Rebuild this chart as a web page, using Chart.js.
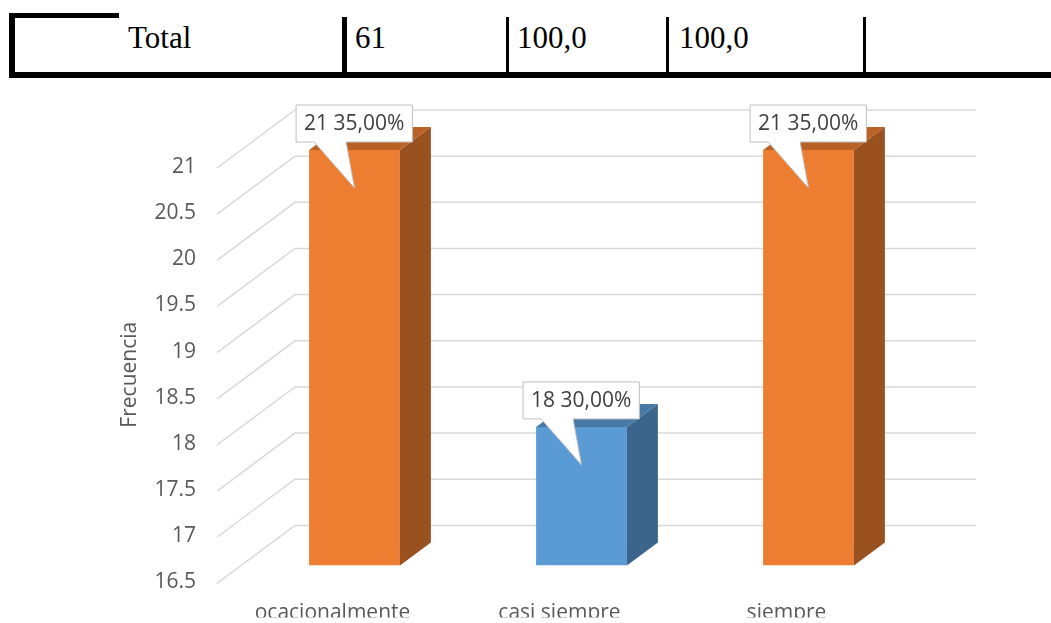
<!DOCTYPE html>
<html lang="es">
<head>
<meta charset="utf-8">
<title>Frecuencia</title>
<script src="https://cdn.jsdelivr.net/npm/chart.js@4/dist/chart.umd.min.js"></script>
<style>
  html, body { margin: 0; padding: 0; background: #fff; }
  #page { position: relative; width: 1051px; height: 623px; overflow: hidden; }
  .rule { position: absolute; background: #000; }
  .cell { position: absolute; top: 22px; font: 31px "Liberation Serif", "Times New Roman", serif; color: #000; line-height: 31px; }
  #wrap { position: absolute; left: 0; top: 90px; width: 1051px; height: 533px; }
</style>
</head>
<body>
<div id="page">
  <!-- fila del total -->
  <div class="rule" style="left:9px; top:13px; width:110px; height:5px;"></div>
  <div class="rule" style="left:9px; top:13px; width:6px; height:65px;"></div>
  <div class="rule" style="left:9px; top:72px; width:1042px; height:6px;"></div>
  <div class="rule" style="left:342px; top:17px; width:5px; height:56px;"></div>
  <div class="rule" style="left:506px; top:17px; width:3px; height:56px;"></div>
  <div class="rule" style="left:666px; top:17px; width:3px; height:56px;"></div>
  <div class="rule" style="left:863px; top:17px; width:3px; height:56px;"></div>
  <div class="cell" id="c0" style="left:128px;"></div>
  <div class="cell" id="c1" style="left:355px;"></div>
  <div class="cell" id="c2" style="left:517px;"></div>
  <div class="cell" id="c3" style="left:679px;"></div>

  <div id="wrap"><canvas id="grafico"></canvas></div>
</div>

<script>
const filaTotal = ["Total", "61", "100,0", "100,0"];

const categorias = ["ocacionalmente", "casi siempre", "siempre"];
const frecuencias = [21, 18, 21];
const porcentajes = [35, 30, 35];
const colores = ["#ED7D31", "#5B9BD5", "#ED7D31"];

const yMin = 16.5;
const yMax = 21;
const yPaso = 0.5;

filaTotal.forEach((t, i) => {
  document.getElementById("c" + i).textContent = t;
});

const fuente = '"Open Sans", "Noto Sans", sans-serif';
const gris = "#595959";

// profundidad de las barras y de la pared del fondo
const prof = { dx: 31, dy: -23 };

function oscurecer(hex, f) {
  const n = parseInt(hex.slice(1), 16);
  const r = Math.round(((n >> 16) & 255) * f);
  const g = Math.round(((n >> 8) & 255) * f);
  const b = Math.round((n & 255) * f);
  return `rgb(${r},${g},${b})`;
}

function etiqueta(i) {
  return frecuencias[i] + " " + porcentajes[i].toFixed(2).replace(".", ",") + "%";
}

// lineas de la cuadricula en perspectiva
const cuadricula3d = {
  id: "cuadricula3d",
  beforeDatasetsDraw(chart) {
    const ctx = chart.ctx;
    const a = chart.chartArea;
    const ys = chart.scales.y;
    ctx.save();
    ctx.strokeStyle = "#D9D9D9";
    ctx.lineWidth = 1.5;
    ys.ticks.forEach(t => {
      const py = ys.getPixelForValue(t.value);
      ctx.beginPath();
      ctx.moveTo(a.left - 24, py + 18);
      ctx.lineTo(a.left + 54, py - 40);
      ctx.lineTo(a.right + 54, py - 40);
      ctx.stroke();
    });
    ctx.restore();
  }
};

// caras lateral y superior de cada barra
const barras3d = {
  id: "barras3d",
  afterDatasetsDraw(chart) {
    const ctx = chart.ctx;
    const meta = chart.getDatasetMeta(0);
    ctx.save();
    meta.data.forEach((bar, i) => {
      const { x, y, base, width } = bar.getProps(["x", "y", "base", "width"], true);
      const l = x - width / 2, r = x + width / 2;
      ctx.fillStyle = oscurecer(colores[i], 0.65);
      ctx.beginPath();
      ctx.moveTo(r, y);
      ctx.lineTo(r + prof.dx, y + prof.dy);
      ctx.lineTo(r + prof.dx, base + prof.dy);
      ctx.lineTo(r, base);
      ctx.closePath();
      ctx.fill();
      ctx.fillStyle = oscurecer(colores[i], 0.78);
      ctx.beginPath();
      ctx.moveTo(l, y);
      ctx.lineTo(l + prof.dx, y + prof.dy);
      ctx.lineTo(r + prof.dx, y + prof.dy);
      ctx.lineTo(r, y);
      ctx.closePath();
      ctx.fill();
    });
    ctx.restore();
  },
  afterDraw(chart) {
    const ctx = chart.ctx;
    const meta = chart.getDatasetMeta(0);
    ctx.save();
    ctx.font = "21px " + fuente;
    // globos con el valor y el porcentaje
    meta.data.forEach((bar, i) => {
      const { x, y, width } = bar.getProps(["x", "y", "width"], true);
      const txt = etiqueta(i);
      const w = ctx.measureText(txt).width + 16;
      const bl = x - width / 2 - 13;
      const bt = y - 45;
      const bb = y - 8;
      ctx.beginPath();
      ctx.moveTo(bl, bt);
      ctx.lineTo(bl + w, bt);
      ctx.lineTo(bl + w, bb);
      ctx.lineTo(bl + 50, bb);
      ctx.lineTo(x, y + 38);
      ctx.lineTo(bl + 18, bb);
      ctx.lineTo(bl, bb);
      ctx.closePath();
      ctx.fillStyle = "#fff";
      ctx.fill();
      ctx.strokeStyle = "#BFBFBF";
      ctx.lineWidth = 1;
      ctx.stroke();
      ctx.fillStyle = "#404040";
      ctx.textAlign = "center";
      ctx.textBaseline = "middle";
      ctx.fillText(txt, bl + w / 2, (bt + bb) / 2 + 1);
    });
    // titulo del eje vertical
    const a = chart.chartArea;
    ctx.translate(130, (a.top + a.bottom) / 2 + 17);
    ctx.rotate(-Math.PI / 2);
    ctx.fillStyle = gris;
    ctx.textAlign = "center";
    ctx.textBaseline = "middle";
    ctx.fillText("Frecuencia", 0, 0);
    ctx.restore();
  }
};

new Chart(document.getElementById("grafico"), {
  type: "bar",
  data: {
    labels: categorias,
    datasets: [{
      data: frecuencias,
      base: yMin,
      backgroundColor: colores,
      borderWidth: 0,
      barPercentage: 0.4,
      categoryPercentage: 1
    }]
  },
  options: {
    responsive: true,
    maintainAspectRatio: false,
    animation: false,
    layout: { padding: { top: 60, right: 129, left: 0, bottom: 0 } },
    plugins: {
      legend: { display: false },
      tooltip: { enabled: false }
    },
    scales: {
      x: {
        grid: { display: false, drawTicks: false },
        border: { display: false },
        ticks: {
          color: gris,
          font: { family: fuente, size: 21 },
          padding: 35,
          labelOffset: -22,
          maxRotation: 0
        },
        afterFit(scale) { scale.height = 52; }
      },
      y: {
        min: yMin,
        max: yMax,
        grid: { display: false, drawTicks: false },
        border: { display: false },
        ticks: {
          stepSize: yPaso,
          color: gris,
          font: { family: fuente, size: 21 },
          padding: 45,
          labelOffset: 17,
          callback: v => String(v)
        },
        afterFit(scale) { scale.width = 241; }
      }
    }
  },
  plugins: [cuadricula3d, barras3d]
});
</script>
</body>
</html>
